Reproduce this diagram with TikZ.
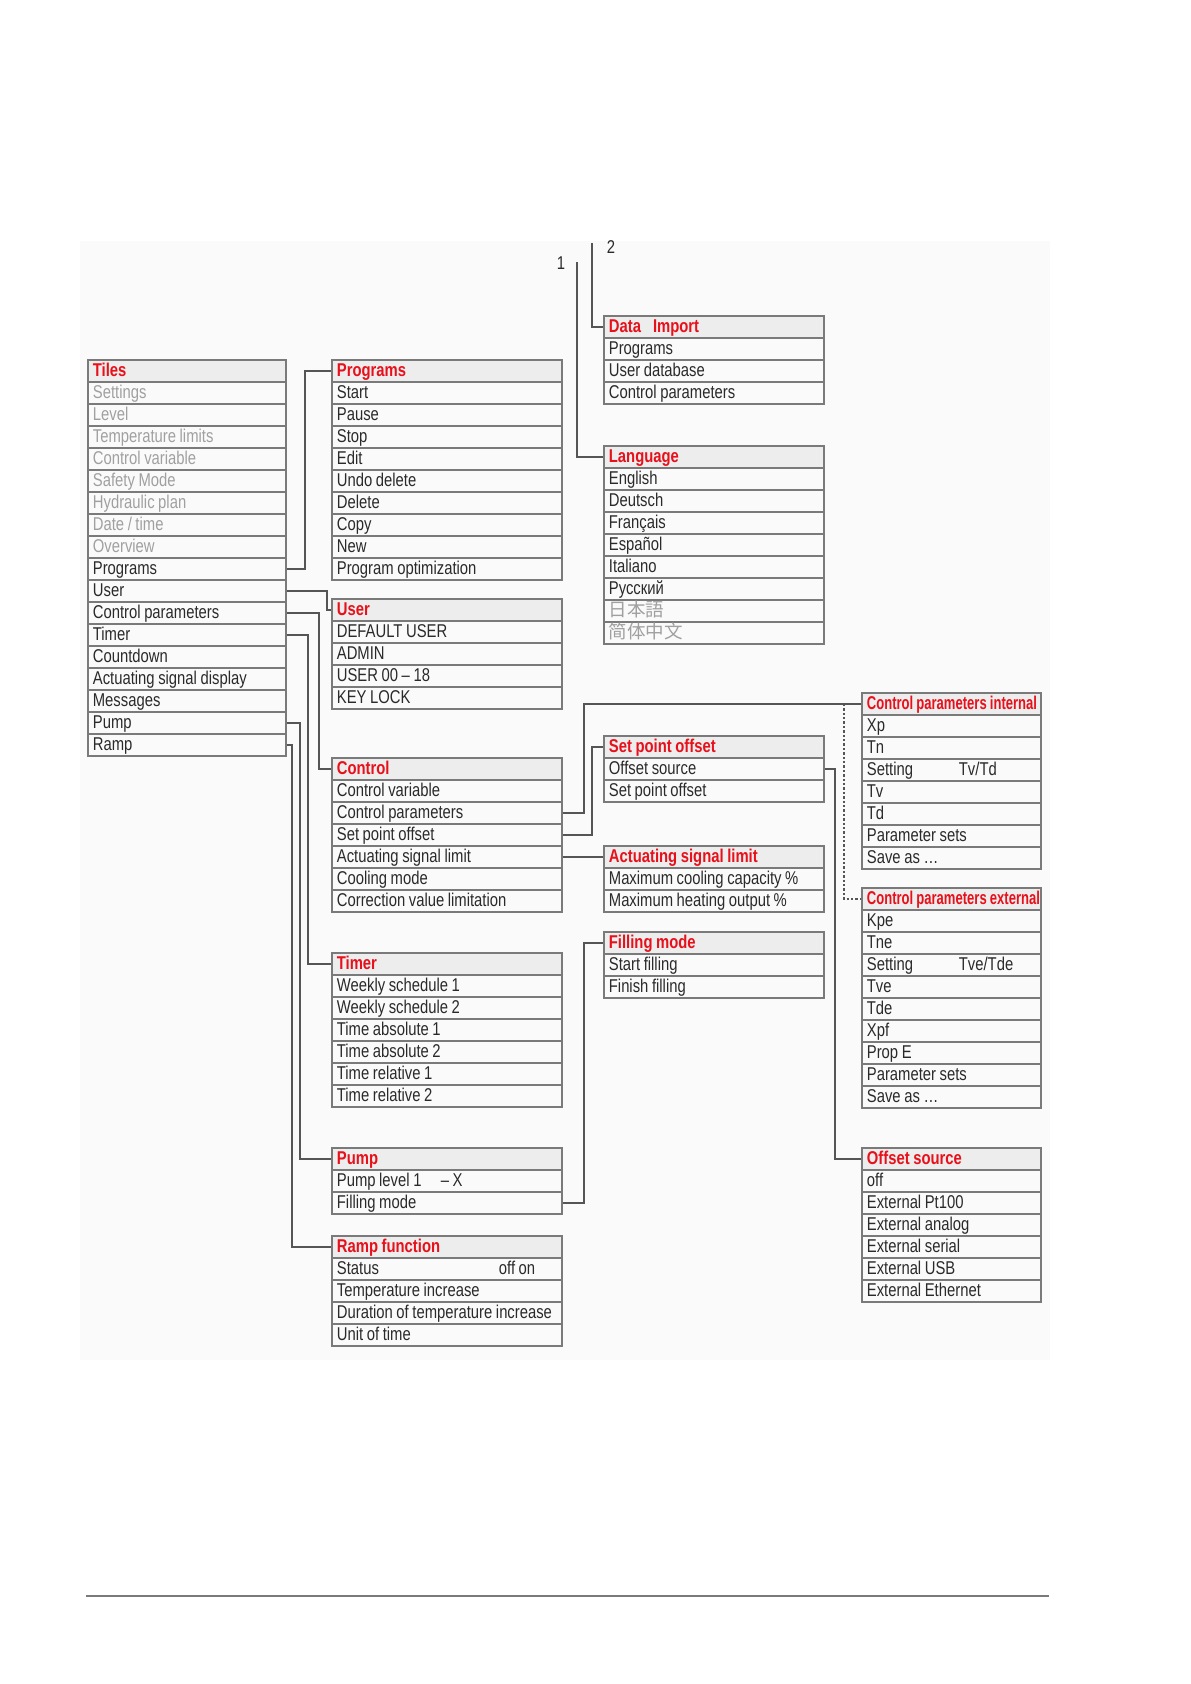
\documentclass[tikz,border=0pt]{standalone}
\usepackage{fontspec}
\setmainfont{Liberation Sans}[FakeStretch=0.8]
\newfontfamily\cjkjp{Noto Sans CJK JP}
\newfontfamily\cjksc{Noto Sans CJK SC}
\usepackage{graphicx}
\usepackage{xcolor}

\definecolor{menured}{HTML}{E8101A}
\definecolor{ink}{HTML}{2A2A2A}
\definecolor{dim}{HTML}{A0A0A0}
\definecolor{boxline}{HTML}{7A7A7A}
\definecolor{headfill}{HTML}{EDEDED}
\definecolor{wirecol}{HTML}{555555}

% tighter word spacing, as in the narrow menu font
\newcommand{\tightspace}{\spaceskip=1.8pt\relax}

% one menu: name, x, y, column style, title, entries
\newcommand{\menubox}[6]{%
  \node[cell, head, #4] (#1-0) at (#2,#3) {\tightspace\mbox{#5}};
  \foreach \entry [count=\k] in {#6}
    \node[cell, #4] (#1-\k) at (#2,#3+\k*22) {\tightspace\mbox{\entry}};
}

\begin{document}
\begin{tikzpicture}[x=0.5bp, y=-0.5bp,
    cell/.style={rectangle, draw=boxline, line width=0.9bp, anchor=north west,
      minimum height=11bp, inner xsep=2.5bp, inner ysep=0pt, align=left,
      text height=7.4pt, text depth=1.8pt, text=ink,
      font=\fontsize{9.3}{10}\selectfont},
    head/.style={fill=headfill, text=menured, font=\fontsize{9.3}{10}\selectfont\bfseries},
    colA/.style={text width=94bp},
    colB/.style={text width=110bp},
    colC/.style={text width=105bp},
    colD/.style={text width=84.5bp},
    wire/.style={draw=wirecol, line width=0.8bp},
    num/.style={text=ink, font=\fontsize{9.3}{10}\selectfont, inner sep=0pt}]
    \useasboundingbox (0,0) rectangle (1191,1684);
    \fill[black!2] (80,241) rectangle (1050,1360);

    % Tiles
    \menubox{tiles}{87}{359}{colA}{Tiles}{{\color{dim}Settings},{\color{dim}Level},{\color{dim}Temperature limits},{\color{dim}Control variable},{\color{dim}Safety Mode},{\color{dim}Hydraulic plan},{\color{dim}Date / time},{\color{dim}Overview},Programs,User,Control parameters,Timer,Countdown,Actuating signal display,Messages,Pump,Ramp}

    % Second column
    \menubox{prog}{331}{359}{colB}{Programs}{Start,Pause,Stop,Edit,Undo delete,Delete,Copy,New,Program optimization}
    \menubox{user}{331}{598}{colB}{User}{DEFAULT USER,ADMIN,USER 00 – 18,KEY LOCK}
    \menubox{ctrl}{331}{757}{colB}{Control}{Control variable,Control parameters,Set point offset,Actuating signal limit,Cooling mode,Correction value limitation}
    \menubox{timer}{331}{952}{colB}{Timer}{Weekly schedule 1,Weekly schedule 2,Time absolute 1,Time absolute 2,Time relative 1,Time relative 2}
    \menubox{pump}{331}{1147}{colB}{Pump}{\makebox[52bp][l]{Pump level 1}– X,Filling mode}
    \menubox{ramp}{331}{1235}{colB}{Ramp function}{\makebox[81bp][l]{Status}off on,Temperature increase,Duration of temperature increase,Unit of time}

    % Third column
    \menubox{imp}{603}{315}{colC}{Data\hspace{6bp}Import}{Programs,User database,Control parameters}
    \menubox{lang}{603}{445}{colC}{Language}{English,Deutsch,Français,Español,Italiano,Русский,{\color{dim}\cjkjp 日本語},{\color{dim}\cjksc 简体中文}}
    \menubox{spo}{603}{735}{colC}{Set point offset}{Offset source,Set point offset}
    \menubox{asl}{603}{845}{colC}{Actuating signal limit}{Maximum cooling capacity \%,Maximum heating output \%}
    \menubox{fill}{603}{931}{colC}{Filling mode}{Start filling,Finish filling}

    % Fourth column
    \menubox{cpi}{861}{692}{colD}{\scalebox{0.88}[1]{Control parameters internal}}{Xp,Tn,\makebox[46bp][l]{Setting}Tv/Td,Tv,Td,Parameter sets,Save as …}
    \menubox{cpe}{861}{887}{colD}{\scalebox{0.88}[1]{Control parameters external}}{Kpe,Tne,\makebox[46bp][l]{Setting}Tve/Tde,Tve,Tde,Xpf,Prop E,Parameter sets,Save as …}
    \menubox{offs}{861}{1147}{colD}{Offset source}{off,External Pt100,External analog,External serial,External USB,External Ethernet}

    % Links from the tiles
    \draw[wire] (tiles-9.east) -- ++(18,0) |- (prog-0.west);
    \draw[wire] (tiles-10.east) -- ++(40,0) |- (user-0.west);
    \draw[wire] (tiles-11.east) -- ++(32,0) |- (ctrl-0.west);
    \draw[wire] (tiles-12.east) -- ++(21,0) |- (timer-0.west);
    \draw[wire] (tiles-16.east) -- ++(13,0) |- (pump-0.west);
    \draw[wire] (tiles-17.east) -- ++(5,0) |- (ramp-0.west);

    % Links from the submenus
    \draw[wire] (ctrl-2.east) -- ++(21,0) |- (cpi-0.west);
    \draw[wire] (ctrl-3.east) -- ++(29,0) |- (spo-0.west);
    \draw[wire] (ctrl-4.east) -- (asl-0.west);
    \path (cpi-0.west) ++(-17,0) coordinate (cpsplit);
    \draw[wire, line width=1.2bp, densely dotted] (cpsplit) |- (cpe-0.west);
    \draw[wire] (spo-1.east) -- ++(10,0) |- (offs-0.west);
    \draw[wire] (pump-2.east) -- ++(21,0) |- (fill-0.west);

    % Entry lines 1 and 2
    \coordinate (entry1) at (577,262);
    \coordinate (entry2) at (592,243);
    \node[num] (lbl1) at (561,263) {1};
    \node[num] (lbl2) at (611,247) {2};
    \draw[wire] (entry1) |- (lang-0.west);
    \draw[wire] (entry2) |- (imp-0.west);

    % Page rule
    \draw[boxline, line width=0.8bp] (86,1596) -- (1049,1596);
\end{tikzpicture}
\end{document}
